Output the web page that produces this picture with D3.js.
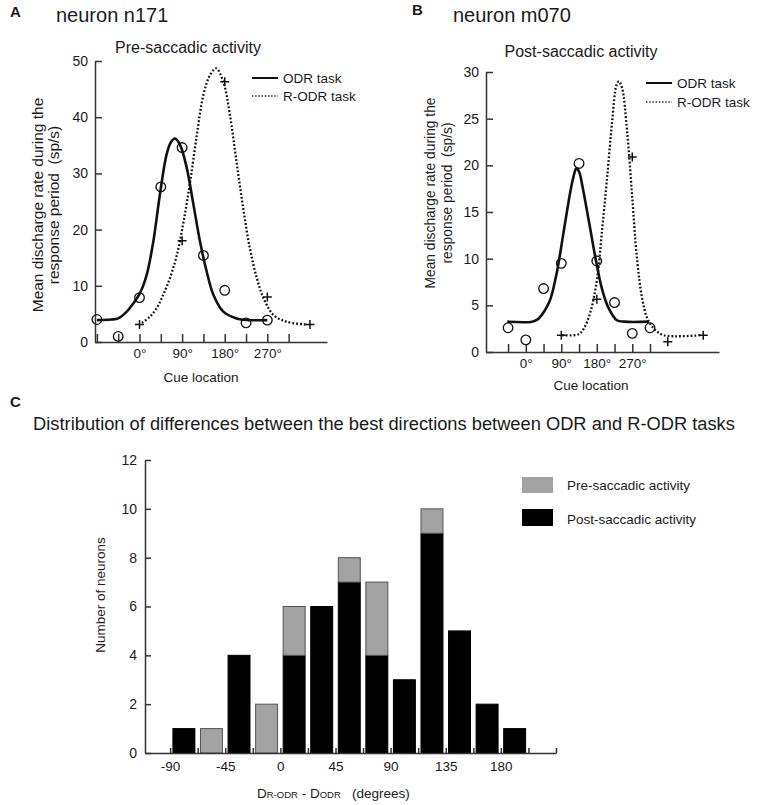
<!DOCTYPE html>
<html>
<head>
<meta charset="utf-8">
<script src="https://cdn.jsdelivr.net/npm/d3@7"></script>
<style>
  body { margin: 0; background: #fff; }
  svg { font-family: "Liberation Sans", Arial, Helvetica, sans-serif; }
  text { fill: #1a1a1a; white-space: pre; }
  .axis path, .axis line { stroke: #333; stroke-width: 1.5; }
  .axis text { fill: #1a1a1a; font-family: "Liberation Sans", Arial, sans-serif; }
</style>
</head>
<body>
<div class="chart"></div>
<script>
'use strict';

// ---- panel A : neuron n171, pre-saccadic ----
const dirsA = [-90, -45, 0, 45, 90, 135, 180, 225, 270];
const odrA = [4.0, 1.0, 7.9, 27.6, 34.6, 15.4, 9.2, 3.4, 3.9];
const rdirsA = [0, 90, 180, 270, 360];
const rodrA = [3.1, 18.0, 46.3, 8.0, 3.1];
// fitted curves: [deg, sp/s]
const odrFitA = [[-90, 3.9], [-60, 4.0], [-45, 4.2], [-27, 5.4], [-13, 6.9], [1, 8.7], [15, 11.9], [29, 17.8],
    [43, 26.2], [57, 33.3], [66, 35.5], [75, 36.2], [86, 35.0], [100, 30.9], [114, 24.4], [128, 17.8],
    [142, 12.5], [156, 8.4], [177, 5.4], [205, 4.2], [230, 3.9], [270, 3.9]];
const rodrFitA = [[5, 3.4], [22, 4.5], [36, 6.0], [50, 8.4], [64, 11.3], [79, 15.5], [93, 21.4], [107, 28.5],
    [121, 36.8], [135, 44.0], [149, 47.5], [162, 48.7], [177, 46.3], [191, 40.4], [205, 32.0], [219, 23.8],
    [233, 16.7], [248, 11.3], [262, 7.8], [283, 4.8], [311, 3.6], [353, 3.1]];

// ---- panel B : neuron m070, post-saccadic ----
const dirsB = [-45, 0, 45, 90, 135, 180, 225, 270, 315];
const odrB = [2.6, 1.3, 6.8, 9.5, 20.2, 9.75, 5.3, 2.0, 2.6];
const rdirsB = [90, 180, 270, 360, 450];
const rodrB = [1.8, 5.65, 20.9, 1.1, 1.8];
const odrFitB = [[-47, 3.25], [16, 3.25], [30, 3.5], [41, 4.0], [53, 4.8], [63, 5.75], [79, 8.6], [96, 12.9],
    [113, 17.2], [121, 18.8], [128.5, 19.7], [136, 19.2], [143, 17.9], [160, 14.0], [177, 10.0], [193, 6.8],
    [210, 4.7], [231, 3.4], [250, 3.25], [312, 3.25]];
const rodrFitB = [[92, 1.8], [134, 1.9], [147, 2.5], [164, 4.3], [181, 7.9], [193, 12.9], [206, 18.6],
    [219, 24.7], [230, 28.6], [236, 29.0], [244, 28.3], [257, 23.6], [270, 16.5], [282, 10.0], [295, 5.75],
    [308, 3.6], [325, 2.5], [350, 1.8], [443, 1.8]];

const cueTicksA = [-90, -45, 0, 45, 90, 135, 180, 225, 270, 315];
const cueTicksB = [-45, 0, 45, 90, 135, 180, 225, 270, 315];
const cueLabels = [0, 90, 180, 270];

// ---- panel C : histogram of best direction differences ----
const binStarts = [-90, -67.5, -45, -22.5, 0, 22.5, 45, 67.5, 90, 112.5, 135, 157.5, 180];
const postCounts = [1, 0, 4, 0, 4, 6, 7, 4, 3, 9, 5, 2, 1];
const preCounts = [0, 1, 0, 2, 2, 0, 1, 3, 0, 1, 0, 0, 0];
const binWidth = 22.5;
const histTicks = [-90, -67.5, -45, -22.5, 0, 22.5, 45, 67.5, 90, 112.5, 135, 157.5, 180, 202.5, 225];
const histLabels = [-90, -45, 0, 45, 90, 135, 180];
const countTicks = [0, 2, 4, 6, 8, 10, 12];

const grey = '#a3a3a3';

const svg = d3.select('.chart').append('svg')
    .attr('width', 767)
    .attr('height', 805);

function label(x, y, txt, size, opts) {
    opts = opts || {};
    return svg.append('text')
        .attr('x', x).attr('y', y)
        .attr('font-size', size)
        .attr('font-weight', opts.bold ? 'bold' : null)
        .attr('text-anchor', opts.anchor || 'start')
        .attr('dy', '0.35em')
        .text(txt);
}

function yLabel(cx, cy, lines, size, gap) {
    lines.forEach((l, i) => {
        svg.append('text')
            .attr('transform', `translate(${cx + i * gap},${cy}) rotate(-90)`)
            .attr('text-anchor', 'middle')
            .attr('dy', '0.35em')
            .attr('font-size', size)
            .text(l);
    });
}

function drawTuning(p) {
    const x = d3.scaleLinear().domain(p.xDomain).range(p.xRange);
    const y = d3.scaleLinear().domain(p.yDomain).range(p.yRange);

    svg.append('g')
        .attr('class', 'axis')
        .attr('transform', `translate(0,${p.yRange[0]})`)
        .call(d3.axisBottom(x)
            .tickValues(p.cueTicks)
            .tickSizeInner(-8).tickSizeOuter(0).tickPadding(6)
            .tickFormat(d => cueLabels.includes(d) ? d + '°' : ''))
        .call(g => g.selectAll('text').attr('font-size', 13.5));

    svg.append('g')
        .attr('class', 'axis')
        .attr('transform', `translate(${p.xRange[0]},0)`)
        .call(d3.axisLeft(y)
            .ticks(p.yTicks)
            .tickSizeInner(-7).tickSizeOuter(0).tickPadding(7))
        .call(g => g.selectAll('text').attr('font-size', 14));

    const line = d3.line()
        .x(d => x(d[0]))
        .y(d => y(d[1]))
        .curve(d3.curveCatmullRom.alpha(0.5));

    svg.append('path')
        .datum(p.rodrFit)
        .attr('d', line)
        .attr('fill', 'none')
        .attr('stroke', '#111')
        .attr('stroke-width', 2.3)
        .attr('stroke-dasharray', '1.8,2.0');

    svg.append('path')
        .datum(p.odrFit)
        .attr('d', line)
        .attr('fill', 'none')
        .attr('stroke', '#111')
        .attr('stroke-width', 2.6);

    svg.append('g').selectAll('circle')
        .data(p.dirs)
        .enter().append('circle')
        .attr('cx', d => x(d))
        .attr('cy', (d, i) => y(p.odr[i]))
        .attr('r', 4.8)
        .attr('fill', 'none')
        .attr('stroke', '#111')
        .attr('stroke-width', 1.3);

    svg.append('g').selectAll('path')
        .data(p.rdirs)
        .enter().append('path')
        .attr('d', (d, i) => {
            const cx = x(d), cy = y(p.rodr[i]);
            return `M${cx - 4.5},${cy}H${cx + 4.5}M${cx},${cy - 4.5}V${cy + 4.5}`;
        })
        .attr('stroke', '#111')
        .attr('stroke-width', 1.5);

    // legend
    const lg = p.legend;
    svg.append('line')
        .attr('x1', lg.x).attr('x2', lg.x + 26)
        .attr('y1', lg.y).attr('y2', lg.y)
        .attr('stroke', '#111').attr('stroke-width', 2);
    svg.append('line')
        .attr('x1', lg.x).attr('x2', lg.x + 26)
        .attr('y1', lg.y + lg.gap).attr('y2', lg.y + lg.gap)
        .attr('stroke', '#222').attr('stroke-width', 1.6)
        .attr('stroke-dasharray', '1.4,1.8');
    label(lg.x + 31, lg.y, 'ODR task', 13.5);
    label(lg.x + 31, lg.y + lg.gap, 'R-ODR task', 13.5);
}

drawTuning({
    xDomain: [-94, 396], xRange: [95, 327],
    yDomain: [0, 50], yRange: [342, 61], yTicks: 5,
    cueTicks: cueTicksA,
    dirs: dirsA, odr: odrA, rdirs: rdirsA, rodr: rodrA,
    odrFit: odrFitA, rodrFit: rodrFitA,
    legend: {x: 252, y: 78, gap: 18}
});

drawTuning({
    xDomain: [-101, 490], xRange: [486, 719],
    yDomain: [0, 30], yRange: [352, 72], yTicks: 6,
    cueTicks: cueTicksB,
    dirs: dirsB, odr: odrB, rdirs: rdirsB, rodr: rodrB,
    odrFit: odrFitB, rodrFit: rodrFitB,
    legend: {x: 646, y: 83, gap: 19}
});

// panel texts
label(10, 12, 'A', 15, {bold: true});
label(56, 15, 'neuron n171', 20);
label(188, 47, 'Pre-saccadic activity', 16, {anchor: 'middle'});
label(201, 377, 'Cue location', 13.5, {anchor: 'middle'});
yLabel(38, 205, ['Mean discharge rate during the', 'response period  (sp/s)'], 15.5, 16);

label(412, 10, 'B', 15, {bold: true});
label(453, 15, 'neuron m070', 20);
label(581, 51, 'Post-saccadic activity', 16, {anchor: 'middle'});
label(591, 385, 'Cue location', 13.5, {anchor: 'middle'});
yLabel(430, 193, ['Mean discharge rate during the', 'response period  (sp/s)'], 13.8, 17);

// ---- histogram ----
function drawHistogram() {
    const x = d3.scaleLinear().domain([-110.5, 225]).range([145, 556]);
    const y = d3.scaleLinear().domain([0, 12]).range([753, 460]);

    const bins = binStarts.map((s, i) => ({start: s, post: postCounts[i], pre: preCounts[i]}));
    const inset = 2.8;

    const g = svg.append('g');
    g.selectAll('.bar-post')
        .data(bins.filter(d => d.post > 0))
        .enter().append('rect')
        .attr('class', 'bar-post')
        .attr('x', d => x(d.start) + inset)
        .attr('width', d => x(d.start + binWidth) - x(d.start) - 2 * inset)
        .attr('y', d => y(d.post))
        .attr('height', d => y(0) - y(d.post))
        .attr('fill', '#000')
        .attr('stroke', '#000')
        .attr('stroke-width', 1);

    g.selectAll('.bar-pre')
        .data(bins.filter(d => d.pre > 0))
        .enter().append('rect')
        .attr('class', 'bar-pre')
        .attr('x', d => x(d.start) + inset)
        .attr('width', d => x(d.start + binWidth) - x(d.start) - 2 * inset)
        .attr('y', d => y(d.post + d.pre))
        .attr('height', d => y(d.post) - y(d.post + d.pre))
        .attr('fill', grey)
        .attr('stroke', '#555')
        .attr('stroke-width', 1);

    svg.append('g')
        .attr('class', 'axis')
        .attr('transform', 'translate(0,753)')
        .call(d3.axisBottom(x)
            .tickValues(histTicks)
            .tickSizeInner(-5).tickSizeOuter(0).tickPadding(8)
            .tickFormat(d => histLabels.includes(d) ? d : ''))
        .call(g => g.selectAll('text').attr('font-size', 13.5));

    svg.append('g')
        .attr('class', 'axis')
        .attr('transform', 'translate(145,0)')
        .call(d3.axisLeft(y)
            .tickValues(countTicks)
            .tickSizeInner(-6).tickSizeOuter(0).tickPadding(8))
        .call(g => g.selectAll('text').attr('font-size', 14));

    // legend
    svg.append('rect').attr('x', 522).attr('y', 477).attr('width', 31).attr('height', 16).attr('fill', grey);
    svg.append('rect').attr('x', 522).attr('y', 509).attr('width', 31).attr('height', 17).attr('fill', '#000');
    label(567, 485, 'Pre-saccadic activity', 13.5);
    label(567, 519, 'Post-saccadic activity', 13.5);

    label(10, 402, 'C', 15, {bold: true});
    label(384, 424, 'Distribution of differences between the best directions between ODR and R-ODR tasks', 18.3,
        {anchor: 'middle'});
    yLabel(100, 595, ['Number of neurons'], 13.5, 0);

    const xl = svg.append('text').attr('x', 257).attr('y', 793).attr('dy', '0.35em').attr('font-size', 13.5);
    xl.append('tspan').text('D');
    xl.append('tspan').attr('font-size', 9.5).text('R-ODR');
    xl.append('tspan').text(' - D');
    xl.append('tspan').attr('font-size', 9.5).text('ODR');
    xl.append('tspan').text('   (degrees)');
}

drawHistogram();
</script>
</body>
</html>
